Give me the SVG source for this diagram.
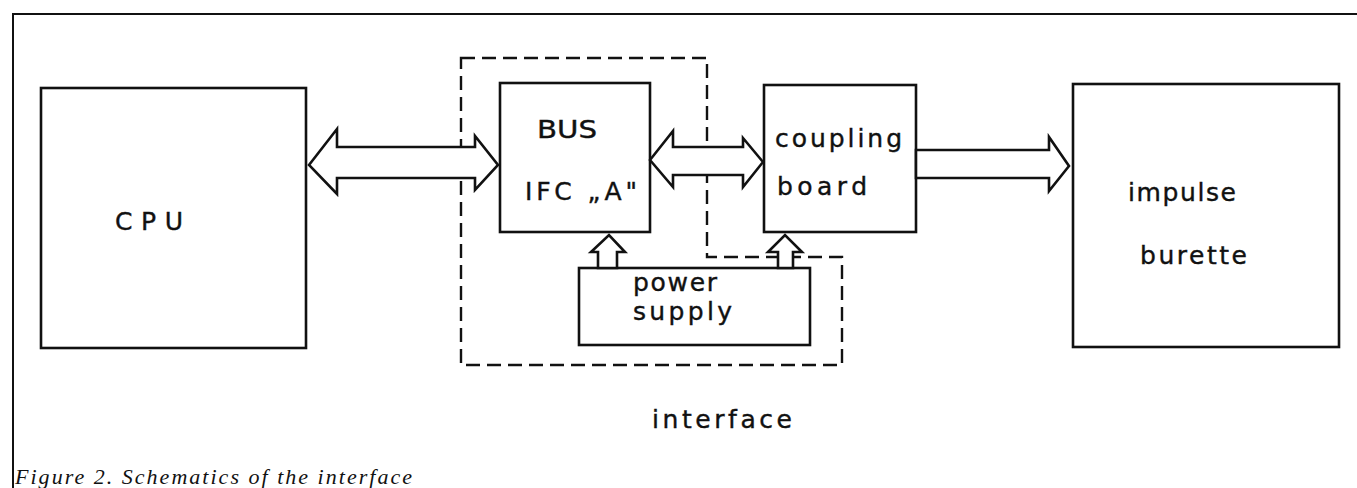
<svg xmlns="http://www.w3.org/2000/svg" width="1357" height="488" viewBox="0 0 1357 488">
<style>
.box{fill:#fff;stroke:#111;stroke-width:2.6}
.arr{fill:#fff;stroke:#111;stroke-width:2.6;stroke-linejoin:miter}
.dash{fill:none;stroke:#111;stroke-width:2.4;stroke-dasharray:14 7}
.frame{fill:none;stroke:#111;stroke-width:2}
.lbl{font-family:"DejaVu Sans","Liberation Sans",sans-serif;fill:#111;stroke:#111;stroke-width:0.4;font-size:25px}
.cap{font-family:"Liberation Serif","Times New Roman",serif;font-style:italic;font-size:22px;fill:#111}
</style>
<rect width="1357" height="488" fill="#fff"/>
<path class="frame" d="M13,488 V14 H1357"/>
<g id="interface">
<path class="dash" d="M461,58 H707 V257 H842 V365 H461 Z"/>
<text class="lbl" x="652" y="428" font-size="27" textLength="140" lengthAdjust="spacing">interface</text>
</g>
<g id="cpu">
<rect class="box" x="41" y="88" width="265" height="260"/>
<text class="lbl" x="115" y="230" font-size="27" textLength="68" lengthAdjust="spacing">CPU</text>
</g>
<g id="bus-ifc">
<rect class="box" x="500" y="83" width="150" height="149"/>
<text class="lbl" x="537" y="138" font-size="28" textLength="60" lengthAdjust="spacingAndGlyphs">BUS</text>
<text class="lbl" x="525" y="200" font-size="28" textLength="112" lengthAdjust="spacing">IFC „A"</text>
</g>
<g id="coupling-board">
<rect class="box" x="764" y="85" width="152" height="147"/>
<text class="lbl" x="775" y="147" font-size="26" textLength="127" lengthAdjust="spacing">coupling</text>
<text class="lbl" x="777" y="195" font-size="28" textLength="90" lengthAdjust="spacing">board</text>
</g>
<g id="impulse-burette">
<rect class="box" x="1073" y="84" width="266" height="263"/>
<text class="lbl" x="1128" y="201" font-size="25" textLength="108" lengthAdjust="spacing">impulse</text>
<text class="lbl" x="1140" y="264" font-size="25" textLength="107" lengthAdjust="spacing">burette</text>
</g>
<g id="power-supply">
<rect class="box" x="579" y="268" width="231" height="77"/>
<text class="lbl" x="633" y="291" font-size="24" textLength="84" lengthAdjust="spacing">power</text>
<text class="lbl" x="633" y="320" font-size="24" textLength="99" lengthAdjust="spacing">supply</text>
</g>
<g id="connectors">
<polygon class="arr" points="309,165 337,129 337,147 475,147 475,136 498,165 475,190 475,178 337,178 337,194"/>
<polygon class="arr" points="650,160 673,131 673,147 743,147 743,138 763,162 743,187 743,175 673,175 673,187"/>
<polygon class="arr" points="916,150 1049,150 1049,137 1069,166 1049,191 1049,178 916,178"/>
<polygon class="arr" points="598,268 598,252 591,252 609,235 625,252 617,252 617,268"/>
<polygon class="arr" points="778,268 778,252 768,252 785,235 802,252 793,252 793,268"/>
</g>
<text class="cap" x="15" y="484" textLength="397" lengthAdjust="spacing">Figure 2. Schematics of the interface</text>
</svg>
